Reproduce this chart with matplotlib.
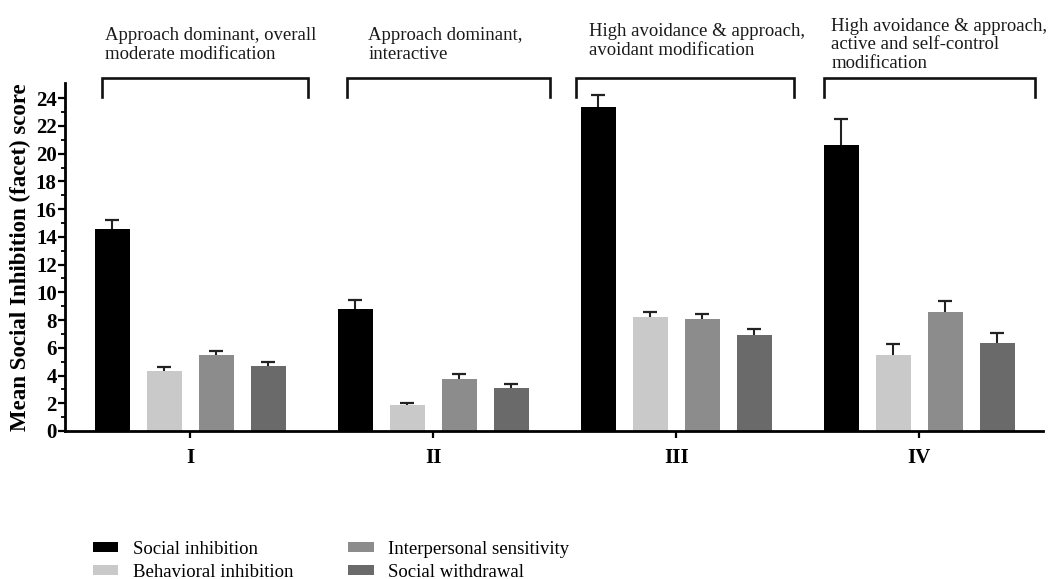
import matplotlib
matplotlib.use("Agg")
import matplotlib.pyplot as plt
import numpy as np
from matplotlib.patches import Patch
from matplotlib.transforms import blended_transform_factory

# ---- data ----
groups = ["I", "II", "III", "IV"]
series = ["Social inhibition", "Behavioral inhibition",
          "Interpersonal sensitivity", "Social withdrawal"]
social_inhibition = [14.6, 8.8, 23.35, 20.6]
social_inhibition_err = [0.6, 0.65, 0.9, 1.9]
behavioral_inhibition = [4.35, 1.85, 8.2, 5.45]
behavioral_inhibition_err = [0.25, 0.2, 0.4, 0.8]
interpersonal_sensitivity = [5.5, 3.75, 8.05, 8.6]
interpersonal_sensitivity_err = [0.3, 0.35, 0.4, 0.8]
social_withdrawal = [4.7, 3.1, 6.95, 6.35]
social_withdrawal_err = [0.25, 0.3, 0.4, 0.7]
group_titles = ["Approach dominant, overall\nmoderate modification",
                "Approach dominant,\ninteractive",
                "High avoidance & approach,\navoidant modification",
                "High avoidance & approach,\nactive and self-control\nmodification"]
yticks = list(range(0, 25, 2))

values = [social_inhibition, behavioral_inhibition, interpersonal_sensitivity, social_withdrawal]
errors = [social_inhibition_err, behavioral_inhibition_err,
          interpersonal_sensitivity_err, social_withdrawal_err]
colors = ["#000000", "#c9c9c9", "#8c8c8c", "#6a6a6a"]

plt.rcParams['font.family'] = ['Liberation Serif', 'DejaVu Serif']

W, H = 1060, 579
fig = plt.figure(figsize=(W / 100, H / 100), dpi=100)
# axes in pixel coordinates (from top-left)
ax_l, ax_r, ax_t, ax_b = 65, 1043, 83, 431
ax = fig.add_axes([ax_l / W, (H - ax_b) / H, (ax_r - ax_l) / W, (ax_b - ax_t) / H])

x = np.arange(len(groups))
step = 0.214
width = 0.142
for i, (vals, errs, c) in enumerate(zip(values, errors, colors)):
    pos = x + (i - 1.5) * step
    ax.bar(pos, vals, width=width, color=c, edgecolor='none', zorder=2)
    eb = ax.errorbar(pos, vals, yerr=[np.zeros(len(errs)), errs], fmt='none',
                     ecolor='#222222', elinewidth=1.5, capsize=4.8, capthick=1.6, zorder=3)
    eb[1][0].set_visible(False)

ax.set_xlim(-0.516, 3.509)
ax.set_ylim(0, 25.1)
ax.set_yticks(yticks)
ax.set_yticks(np.arange(1, 25, 2), minor=True)
ax.set_xticks(x)
ax.set_xticklabels(groups, fontsize=15, fontweight='bold')
ax.tick_params(axis='y', which='major', length=5, width=1.6, labelsize=15, pad=1)
ax.tick_params(axis='y', which='minor', length=3, width=1.3)
ax.tick_params(axis='x', which='major', length=5, width=1.6, pad=7)
for lab in ax.get_yticklabels():
    lab.set_fontweight('bold')
for s in ['top', 'right']:
    ax.spines[s].set_visible(False)
for s in ['left', 'bottom']:
    ax.spines[s].set_linewidth(2)

ax.set_ylabel("Mean Social Inhibition (facet) score", fontsize=16.5, fontweight='bold')
ax.yaxis.set_label_coords(-0.035, 0.5)

# brackets and titles
tr = blended_transform_factory(ax.transData, ax.transAxes)
def fy(ypix):
    return (ax_b - ypix) / (ax_b - ax_t)

br_left = [-0.365, -0.356, -0.412, -0.391]
br_right = [0.486, 0.481, 0.486, 0.477]
title_x = [-0.351, -0.268, -0.358, -0.362]
title_base = [59, 59, 55, 68]
for g in range(len(groups)):
    xl, xr = x[g] + br_left[g], x[g] + br_right[g]
    ax.plot([xl, xl, xr, xr], [fy(97), fy(78), fy(78), fy(97)], color='#111111',
            lw=1.9, transform=tr, clip_on=False, solid_joinstyle='miter')
    ax.text(x[g] + title_x[g], fy(title_base[g]), group_titles[g], transform=tr,
            ha='left', va='baseline', fontsize=13.5, color='#1a1a1a', linespacing=1.12)

handles = [Patch(facecolor=c, edgecolor='none') for c in colors]
fig.legend(handles, series, loc='upper left', bbox_to_anchor=(93 / W, 1 - 541 / H),
           ncol=2, frameon=False, fontsize=13.5, handlelength=1.35, handleheight=0.45,
           handletextpad=0.8, columnspacing=2.9, labelspacing=0.3, borderpad=0,
           borderaxespad=0)

fig.savefig("out.png", dpi=100)
